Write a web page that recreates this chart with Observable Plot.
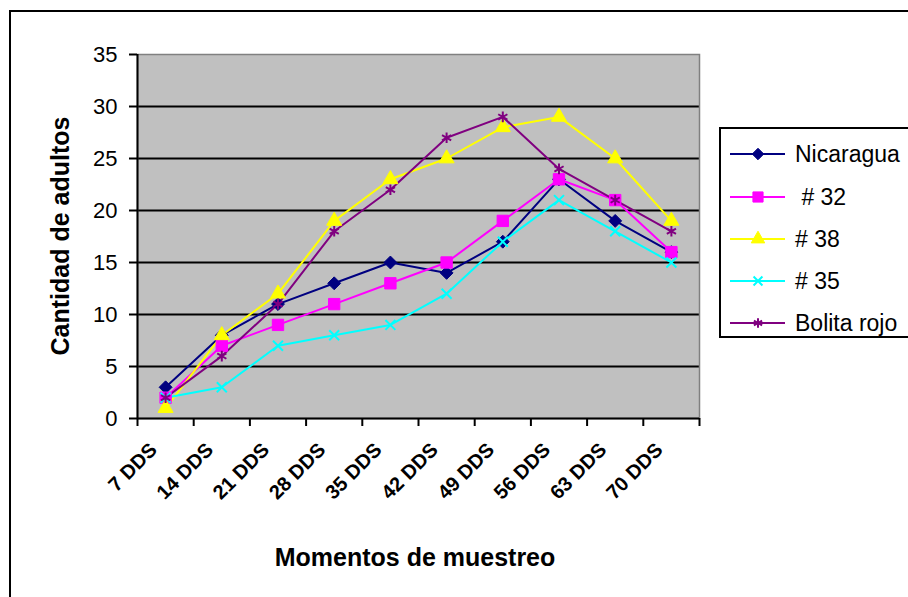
<!DOCTYPE html>
<html>
<head>
<meta charset="utf-8">
<script src="https://cdn.jsdelivr.net/npm/d3@7"></script>
<script src="https://cdn.jsdelivr.net/npm/@observablehq/plot@0.6"></script>
<style>
  html, body { margin: 0; padding: 0; background: #fff; }
  body { width: 908px; height: 597px; overflow: hidden; position: relative; font-family: "Liberation Sans", Arial, sans-serif; }
  #outer { position: absolute; left: 9px; top: 10px; width: 1000px; height: 1000px; border: 2px solid #000; box-sizing: border-box; }
  #chart { position: absolute; left: 0; top: 0; }
  #legend { position: absolute; left: 719px; top: 127px; width: 220px; height: 211px; border: 2px solid #000; background: #fff; box-sizing: border-box; }
  .item { position: absolute; left: 0; height: 30px; display: flex; align-items: center; }
  .item svg { display: block; }
  .item span { font-size: 23px; white-space: pre; color: #000; }
  .title { position: absolute; font-weight: bold; font-size: 25px; white-space: nowrap; color: #000; line-height: 1; }
  #ytitle { left: 60px; top: 236px; transform: translate(-50%, -50%) rotate(-90deg); }
  #xtitle { left: 415px; top: 557px; transform: translate(-50%, -50%); }
</style>
</head>
<body>
<div id="outer"></div>
<div id="chart"></div>
<div id="legend"></div>
<div class="title" id="ytitle">Cantidad de adultos</div>
<div class="title" id="xtitle">Momentos de muestreo</div>
<script>
// ---- data ----
const categories = ["7 DDS", "14 DDS", "21 DDS", "28 DDS", "35 DDS", "42 DDS", "49 DDS", "56 DDS", "63 DDS", "70 DDS"];
const seriesNames = ["Nicaragua", " # 32", "# 38", "# 35", "Bolita rojo"];
const nicaragua  = [3, 8, 11, 13, 15, 14, 17, 23, 19, 16];
const linea32    = [2, 7, 9, 11, 13, 15, 19, 23, 21, 16];
const linea38    = [1, 8, 12, 19, 23, 25, 28, 29, 25, 19];
const linea35    = [2, 3, 7, 8, 9, 12, 17, 21, 18, 15];
const bolitaRojo = [2, 6, 11, 18, 22, 27, 29, 24, 21, 18];
const yTicks = [0, 5, 10, 15, 20, 25, 30, 35];
const gridValues = [5, 10, 15, 20, 25, 30];

const seriesValues = [nicaragua, linea32, linea38, linea35, bolitaRojo];
const colors = ["#000080", "#FF00FF", "#FFFF00", "#00FFFF", "#800080"];
const symbols = ["diamond2", "square", "triangle", "times", "asterisk"];
const radii = [5.8, 6.4, 5.6, 4.6, 5.0];

const rows = [];
seriesNames.forEach((s, k) => {
  seriesValues[k].forEach((v, i) => rows.push({series: s, k, cat: categories[i], idx: i, value: v}));
});

const n = categories.length;
const centers = categories.map((c, i) => i + 0.5);
const boundaries = d3.range(n + 1);

const marks = [
  Plot.frame({fill: "#C0C0C0"}),
  Plot.gridY({ticks: gridValues, stroke: "#000", strokeOpacity: 1, strokeWidth: 2}),
  Plot.frame({stroke: "#808080", strokeWidth: 1.5}),
  Plot.ruleX([0], {stroke: "#000", strokeWidth: 2}),
  Plot.ruleY([0], {stroke: "#000", strokeWidth: 2}),
  Plot.axisY({ticks: yTicks, tickSize: 8, tickPadding: 12, fontSize: 22, strokeWidth: 2, label: null}),
  Plot.axisX({ticks: boundaries, tickSize: 8, strokeWidth: 2, tickFormat: () => "", label: null}),
  Plot.axisX({ticks: centers, tickSize: 0, tickRotate: -45, tickPadding: 28, dx: -12, fontSize: 20, fontWeight: "bold",
              tickFormat: d => categories[Math.floor(d)], label: null})
];
seriesNames.forEach((s, k) => {
  const data = rows.filter(d => d.k === k);
  marks.push(Plot.line(data, {x: d => d.idx + 0.5, y: "value", stroke: colors[k], strokeWidth: 2}));
});
seriesNames.forEach((s, k) => {
  const data = rows.filter(d => d.k === k);
  const stroked = symbols[k] === "times" || symbols[k] === "asterisk";
  marks.push(Plot.dot(data, {x: d => d.idx + 0.5, y: "value", symbol: symbols[k], r: radii[k],
    fill: stroked ? "none" : colors[k], stroke: colors[k], strokeWidth: stroked ? 2 : 1}));
});

const chart = Plot.plot({
  width: 908, height: 597,
  marginLeft: 137, marginRight: 209, marginTop: 54, marginBottom: 179,
  style: {fontFamily: "'Liberation Sans', Arial, sans-serif", color: "#000", background: "transparent", overflow: "visible"},
  x: {type: "linear", domain: [0, n], axis: null},
  y: {domain: [0, 35], axis: null},
  marks
});
document.getElementById("chart").appendChild(chart);

// ---- legend ----
const legend = d3.select("#legend");
const itemTops = [10, 53, 95, 137, 179];
seriesNames.forEach((s, k) => {
  const item = legend.append("div").attr("class", "item").style("top", itemTops[k] + "px");
  const svg = item.append("svg").attr("width", 74).attr("height", 30);
  svg.append("line").attr("x1", 9).attr("x2", 64).attr("y1", 15).attr("y2", 15)
     .attr("stroke", colors[k]).attr("stroke-width", 2);
  const typ = {diamond2: d3.symbolDiamond2, square: d3.symbolSquare, triangle: d3.symbolTriangle, times: d3.symbolTimes, asterisk: d3.symbolAsterisk}[symbols[k]];
  const stroked = symbols[k] === "times" || symbols[k] === "asterisk";
  svg.append("path").attr("transform", "translate(37,15)")
     .attr("d", d3.symbol(typ, Math.PI * radii[k] * radii[k] * 0.8)())
     .attr("fill", stroked ? "none" : colors[k]).attr("stroke", colors[k]).attr("stroke-width", stroked ? 2 : 1);
  item.append("span").text(s);
});
</script>
</body>
</html>
